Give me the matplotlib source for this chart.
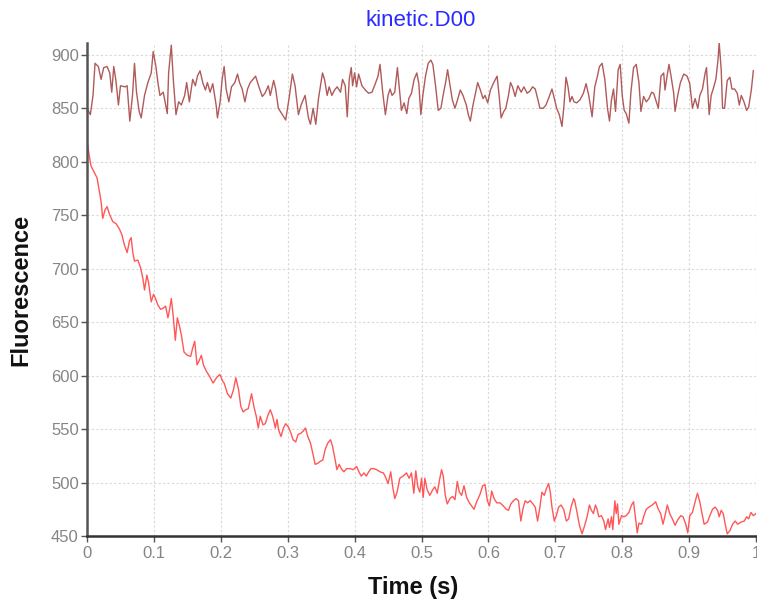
import matplotlib
matplotlib.use("Agg")
import matplotlib.pyplot as plt

# upper trace (reference, dark red)
upper_t = [0.000, 0.005, 0.009, 0.012, 0.017, 0.021, 0.025, 0.030, 0.034, 0.037,
           0.040, 0.043, 0.047, 0.050, 0.057, 0.060, 0.064, 0.068, 0.071, 0.074,
           0.078, 0.081, 0.086, 0.091, 0.096, 0.099, 0.103, 0.106, 0.109, 0.114,
           0.120, 0.122, 0.126, 0.129, 0.133, 0.137, 0.141, 0.146, 0.149, 0.153,
           0.158, 0.162, 0.165, 0.169, 0.173, 0.177, 0.180, 0.184, 0.188, 0.193,
           0.195, 0.199, 0.202, 0.205, 0.208, 0.212, 0.216, 0.221, 0.225, 0.228,
           0.232, 0.236, 0.240, 0.244, 0.252, 0.257, 0.262, 0.266, 0.271, 0.274,
           0.279, 0.282, 0.286, 0.292, 0.297, 0.302, 0.307, 0.311, 0.316, 0.320,
           0.326, 0.331,
           0.334, 0.338, 0.342, 0.346, 0.349, 0.352, 0.355, 0.359, 0.362, 0.366,
           0.370, 0.374, 0.379, 0.382, 0.386, 0.389, 0.392, 0.395, 0.397, 0.400,
           0.403, 0.406, 0.411, 0.416, 0.421, 0.426, 0.431, 0.435, 0.438, 0.442,
           0.446, 0.450, 0.453, 0.456, 0.460, 0.464, 0.467, 0.470, 0.474, 0.478,
           0.481, 0.485, 0.489, 0.493, 0.496, 0.499, 0.502, 0.506, 0.510, 0.514,
           0.517, 0.521, 0.525, 0.529, 0.532, 0.536, 0.539, 0.542, 0.546, 0.550,
           0.553, 0.558, 0.562, 0.567, 0.570, 0.573, 0.577, 0.580, 0.584, 0.588,
           0.592, 0.595, 0.599, 0.603, 0.608, 0.613, 0.616, 0.619, 0.623, 0.626,
           0.630, 0.633, 0.636, 0.640, 0.644, 0.649, 0.653, 0.658,
           0.662, 0.666, 0.670, 0.674, 0.677, 0.682, 0.686, 0.691, 0.695, 0.699,
           0.702, 0.706, 0.710, 0.713, 0.716, 0.719, 0.722, 0.725, 0.728, 0.732,
           0.737, 0.742, 0.746, 0.750, 0.753, 0.755, 0.759, 0.763, 0.766, 0.770,
           0.774, 0.778, 0.781, 0.784, 0.787, 0.790, 0.794, 0.797, 0.800, 0.803,
           0.806, 0.810, 0.813, 0.817, 0.821, 0.825, 0.828, 0.832, 0.836, 0.840,
           0.844, 0.847, 0.850, 0.854, 0.858, 0.862, 0.864, 0.867, 0.870, 0.873,
           0.877, 0.879, 0.883, 0.887, 0.892, 0.897, 0.901, 0.905, 0.909, 0.913,
           0.916, 0.920, 0.924, 0.926, 0.930, 0.933, 0.936, 0.940, 0.943, 0.945,
           0.948, 0.950, 0.953, 0.957, 0.961, 0.964, 0.968, 0.972, 0.975, 0.978,
           0.982, 0.986, 0.989, 0.993, 0.996]
upper_v = [850, 844, 862, 892, 889, 877, 888, 889, 883, 865,
           889, 877, 853, 871, 870, 871, 838, 862, 892, 865,
           847, 841, 862, 874, 883, 903, 889, 874, 862, 865,
           845, 883, 909, 877, 844, 856, 853, 862, 874, 856,
           877, 871, 880, 885, 874, 867, 874, 865, 873, 853,
           841, 856, 877, 889, 868, 856, 870, 874, 882, 874,
           868, 856, 868, 874, 880, 870, 861, 864, 871, 862,
           876, 868, 850, 844, 839, 859, 882, 871, 844, 853,
           862, 841,
           835, 850, 835, 859, 871, 883, 877, 862, 870, 862,
           867, 870, 865, 877, 871, 842, 877, 888, 871, 883,
           870, 882, 871, 867, 864, 865, 873, 880, 891, 865,
           844, 862, 868, 862, 865, 888, 868, 848, 855, 845,
           859, 864, 877, 883, 873, 844, 862, 880, 892, 895,
           891, 871, 848, 850, 861, 874, 886, 874, 858, 850,
           856, 867, 862, 853, 844, 838, 853, 862, 874, 867,
           859, 862, 855, 867, 874, 880, 862, 841, 847, 850,
           862, 874, 870, 861, 871, 865, 870, 864,
           866, 870, 868, 858, 850, 850, 853, 861, 868, 858,
           850, 844, 833, 853, 879, 870, 856, 861, 856, 855,
           858, 864, 873, 862, 850, 842, 870, 880, 889, 892,
           877, 850, 838, 858, 868, 847, 886, 891, 862, 848,
           845, 836, 865, 888, 891, 874, 847, 861, 856, 859,
           865, 864, 858, 850, 880, 883, 867, 880, 891, 880,
           864, 847, 862, 874, 882, 880, 873, 850, 859, 850,
           862, 868, 883, 888, 844, 862, 868, 877, 894, 911,
           886, 850, 850, 876, 879, 868, 868, 864, 853, 862,
           856, 848, 851, 867, 885]

# lower trace (decay, bright red)
lower_t = [0.001, 0.003, 0.006, 0.010, 0.015, 0.0185, 0.021, 0.0235, 0.027, 0.030,
           0.0335, 0.0385, 0.0435, 0.0485, 0.052, 0.056, 0.060, 0.0635, 0.066, 0.0685,
           0.071, 0.076, 0.080, 0.0835, 0.086, 0.0895, 0.092, 0.096, 0.0995, 0.1025,
           0.106, 0.110, 0.114, 0.1175, 0.121, 0.1235, 0.126, 0.1285, 0.132, 0.135,
           0.138, 0.141, 0.145, 0.150, 0.155, 0.158, 0.161, 0.1645, 0.167, 0.171,
           0.174, 0.1785, 0.1835, 0.1885, 0.1935, 0.1985, 0.2035,
           0.205, 0.210, 0.215, 0.219, 0.2225, 0.2265, 0.230, 0.2335, 0.237, 0.241,
           0.246, 0.2495, 0.253, 0.256, 0.259, 0.263, 0.2665, 0.2705, 0.274, 0.2775,
           0.2815, 0.284, 0.2865, 0.290, 0.2935, 0.297, 0.301, 0.305, 0.308, 0.312,
           0.3155, 0.3195, 0.323, 0.3265, 0.330, 0.334, 0.338, 0.341, 0.345, 0.349,
           0.3525, 0.356, 0.360, 0.364, 0.367, 0.371, 0.3735, 0.377, 0.380, 0.384,
           0.388, 0.393, 0.398, 0.403, 0.4065, 0.410, 0.414, 0.4175, 0.421, 0.4245,
           0.4285, 0.433, 0.438, 0.443, 0.447, 0.450, 0.454, 0.457,
           0.460, 0.4635, 0.4675, 0.4725, 0.4775, 0.4815, 0.485, 0.4885, 0.4915, 0.4945,
           0.4975, 0.500, 0.5025, 0.505, 0.5085, 0.5125, 0.5165, 0.520, 0.5235, 0.5265,
           0.530, 0.5325, 0.5355, 0.5385, 0.5425, 0.5465, 0.550, 0.5535, 0.5565, 0.560,
           0.5635, 0.5675, 0.5715, 0.575, 0.5785, 0.5825, 0.5875, 0.5915, 0.595, 0.5985,
           0.6015, 0.605, 0.6085, 0.6125, 0.6175, 0.6225, 0.6265, 0.630, 0.6335, 0.6375,
           0.6415, 0.645, 0.6485, 0.6515, 0.655, 0.6585, 0.6625, 0.6665, 0.670, 0.6735,
           0.6765, 0.680, 0.6835, 0.6865, 0.690, 0.6925, 0.695, 0.6985, 0.7015, 0.705,
           0.7085, 0.7125, 0.7165, 0.720, 0.7235, 0.7275,
           0.729, 0.7325, 0.736, 0.740, 0.744, 0.7475, 0.751, 0.754, 0.757, 0.760,
           0.7625, 0.765, 0.769, 0.7725, 0.775, 0.779, 0.781, 0.784, 0.786, 0.789,
           0.791, 0.793, 0.795, 0.799, 0.8025, 0.806, 0.810, 0.814, 0.817, 0.820,
           0.8225, 0.825, 0.829, 0.8325, 0.836, 0.840, 0.845, 0.850, 0.854, 0.8575,
           0.861, 0.864, 0.8675, 0.871, 0.875, 0.879, 0.883, 0.8875, 0.891, 0.895,
           0.898, 0.901, 0.905, 0.909, 0.9125, 0.916, 0.919, 0.9225, 0.9275, 0.931,
           0.935, 0.939, 0.9425, 0.945, 0.948, 0.951, 0.954, 0.957, 0.961, 0.965,
           0.969, 0.9725, 0.9775, 0.9825, 0.986, 0.989, 0.9925, 0.996, 1.000]
lower_v = [816, 807, 796, 791, 785, 772, 763, 747, 755, 758,
           751, 744, 742, 737, 732, 722, 715, 726, 729, 715,
           707, 708, 701, 691, 680, 694, 687, 669, 676, 672,
           666, 662, 663, 665, 654, 662, 672, 658, 633, 654,
           647, 638, 622, 619, 618, 626, 632, 610, 613, 619,
           610, 604, 599, 593, 598, 601, 594,
           593, 583, 579, 587, 598, 587, 571, 566, 568, 569,
           583, 571, 562, 551, 562, 554, 555, 563, 568, 562,
           551, 559, 549, 543, 551, 555, 552, 546, 540, 538,
           545, 546, 548, 551, 543, 537, 526, 517, 518, 520,
           521, 531, 537, 540, 534, 521, 512, 517, 513, 510,
           513, 513, 512, 515, 510, 506, 509, 506, 510, 513,
           513, 512, 510, 509, 504, 499, 510, 496,
           485, 491, 504, 506, 509, 504, 509, 490, 511, 496,
           491, 504, 486, 504, 493, 488, 493, 496, 490, 501,
           512, 506, 488, 480, 485, 487, 484, 501, 491, 488,
           497, 486, 481, 478, 475, 482, 489, 497, 498, 483,
           478, 492, 485, 481, 481, 478, 475, 474, 480, 483,
           485, 483, 464, 475, 483, 481, 483, 480, 477, 464,
           475, 491, 488, 494, 499, 491, 477, 464, 469, 477,
           479, 475, 464, 466, 477, 485,
           483, 472, 460, 452, 460, 468, 479, 474, 471, 479,
           475, 468, 469, 464, 456, 466, 458, 468, 456, 483,
           471, 480, 461, 469, 468, 469, 472, 479, 482, 466,
           453, 462, 461, 469, 475, 477, 479, 482, 475, 471,
           461, 469, 479, 471, 466, 460, 465, 469, 468, 461,
           453, 469, 472, 482, 490, 482, 472, 461, 463, 469,
           475, 477, 474, 468, 474, 471, 461, 452, 455, 461,
           464, 461, 463, 464, 468, 466, 472, 469, 471]

y_ticks = [450, 500, 550, 600, 650, 700, 750, 800, 850, 900]
x_ticks = [0, 0.1, 0.2, 0.3, 0.4, 0.5, 0.6, 0.7, 0.8, 0.9, 1]
x_labels = ["0", "0.1", "0.2", "0.3", "0.4", "0.5", "0.6", "0.7", "0.8", "0.9", "1"]

plt.rcParams['font.family'] = ['Liberation Sans', 'DejaVu Sans']

fig = plt.figure(figsize=(7.57, 6.01), dpi=100)
ax = fig.add_axes([87 / 757, 65 / 601, 669 / 757, 493 / 601])

ax.plot(upper_t, upper_v, color='#a84848', linewidth=1.0, alpha=0.9)
ax.plot(lower_t, lower_v, color='#ff4545', linewidth=1.0, alpha=0.9)

ax.set_xlim(0, 1)
ax.set_ylim(450, 911)
ax.set_xticks(x_ticks)
ax.set_xticklabels(x_labels)
ax.set_yticks(y_ticks)

ax.grid(True, color='#d8d8d8', linestyle=(0, (2, 2)), linewidth=0.8)
ax.set_axisbelow(True)

for side in ['top', 'right']:
    ax.spines[side].set_visible(False)
ax.spines['left'].set_color('#555555')
ax.spines['left'].set_linewidth(1.8)
ax.spines['bottom'].set_color('#333333')
ax.spines['bottom'].set_linewidth(1.8)

ax.tick_params(axis='both', colors='#555555', labelcolor='#858585',
               labelsize=12, length=4, width=1)
ax.tick_params(axis='x', pad=3)
ax.tick_params(axis='y', pad=2)

ax.set_xlabel('Time (s)', fontsize=17, fontweight='bold', color='#111111')
ax.xaxis.set_label_coords((413 - 87) / 669, -0.105)
ax.xaxis.label.set_va('center')
ax.set_ylabel('Fluorescence', fontsize=17, fontweight='bold', color='#111111')
ax.yaxis.set_label_coords(-(87 - 21) / 669, 0.5)
ax.yaxis.label.set_va('center')

fig.text(421 / 757, 1 - 20 / 601, 'kinetic.D00', color='#2b2bff',
         fontsize=16, ha='center', va='center')

plt.savefig('out.png', dpi=100)
plt.close()
